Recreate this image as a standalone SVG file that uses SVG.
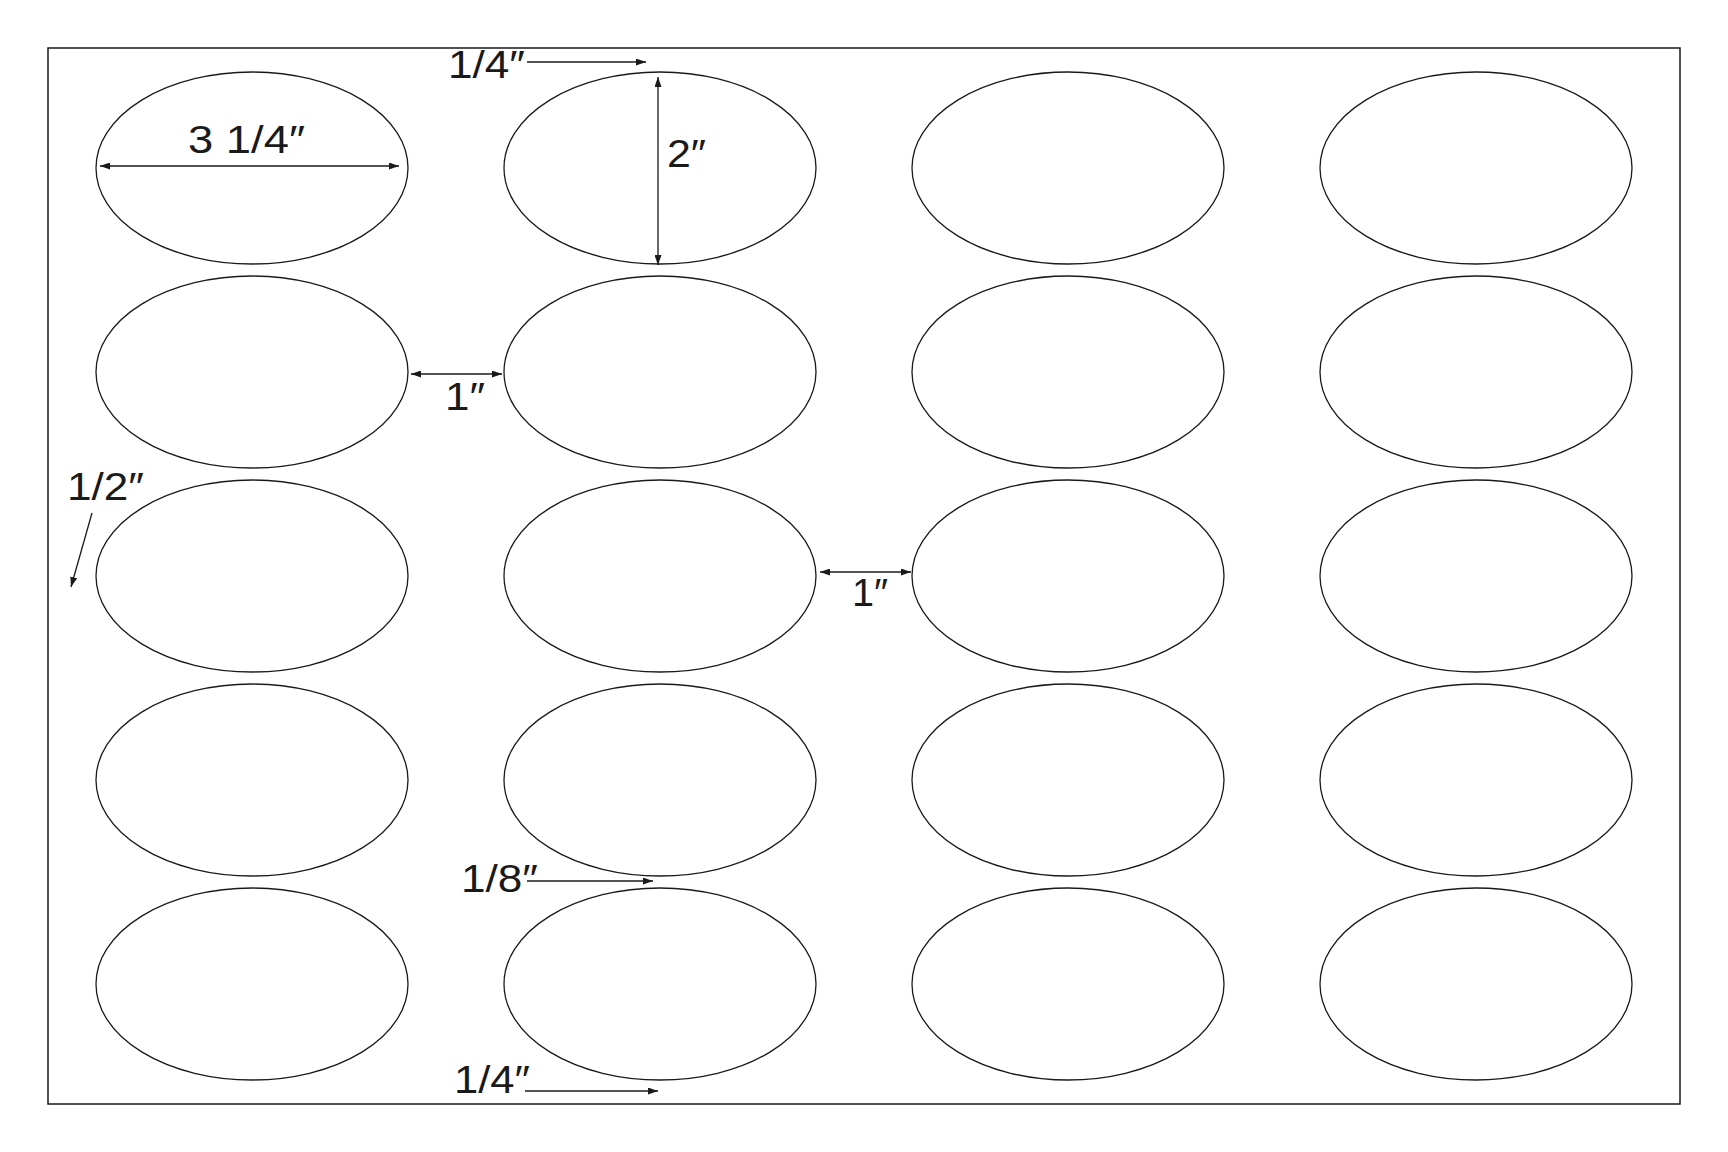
<svg xmlns="http://www.w3.org/2000/svg" width="1728" height="1152" viewBox="0 0 1728 1152">
<style>
.lbl{fill:none;stroke:#1a1a1a;stroke-width:1.3}
.sheet{fill:#fff;stroke:#1a1a1a;stroke-width:1.5}
.dim{stroke:#1a1a1a;stroke-width:1.3;fill:none}
text{font-family:"Liberation Sans","DejaVu Sans",sans-serif;font-size:39.5px;fill:#1a1a1a}
</style>
<defs>
<marker id="ah" markerUnits="userSpaceOnUse" markerWidth="10" markerHeight="7" refX="10" refY="3.5" orient="auto-start-reverse">
<path d="M0,0 L10,3.5 L0,7 z" fill="#1a1a1a"/>
</marker>
</defs>
<rect width="1728" height="1152" fill="#fff"/>
<rect id="sheet" class="sheet" x="48" y="48" width="1632" height="1056"/>
<g id="labels">
<g id="r1c1"><ellipse class="lbl" cx="252" cy="168" rx="156" ry="96"/></g>
<g id="r1c2"><ellipse class="lbl" cx="660" cy="168" rx="156" ry="96"/></g>
<g id="r1c3"><ellipse class="lbl" cx="1068" cy="168" rx="156" ry="96"/></g>
<g id="r1c4"><ellipse class="lbl" cx="1476" cy="168" rx="156" ry="96"/></g>
<g id="r2c1"><ellipse class="lbl" cx="252" cy="372" rx="156" ry="96"/></g>
<g id="r2c2"><ellipse class="lbl" cx="660" cy="372" rx="156" ry="96"/></g>
<g id="r2c3"><ellipse class="lbl" cx="1068" cy="372" rx="156" ry="96"/></g>
<g id="r2c4"><ellipse class="lbl" cx="1476" cy="372" rx="156" ry="96"/></g>
<g id="r3c1"><ellipse class="lbl" cx="252" cy="576" rx="156" ry="96"/></g>
<g id="r3c2"><ellipse class="lbl" cx="660" cy="576" rx="156" ry="96"/></g>
<g id="r3c3"><ellipse class="lbl" cx="1068" cy="576" rx="156" ry="96"/></g>
<g id="r3c4"><ellipse class="lbl" cx="1476" cy="576" rx="156" ry="96"/></g>
<g id="r4c1"><ellipse class="lbl" cx="252" cy="780" rx="156" ry="96"/></g>
<g id="r4c2"><ellipse class="lbl" cx="660" cy="780" rx="156" ry="96"/></g>
<g id="r4c3"><ellipse class="lbl" cx="1068" cy="780" rx="156" ry="96"/></g>
<g id="r4c4"><ellipse class="lbl" cx="1476" cy="780" rx="156" ry="96"/></g>
<g id="r5c1"><ellipse class="lbl" cx="252" cy="984" rx="156" ry="96"/></g>
<g id="r5c2"><ellipse class="lbl" cx="660" cy="984" rx="156" ry="96"/></g>
<g id="r5c3"><ellipse class="lbl" cx="1068" cy="984" rx="156" ry="96"/></g>
<g id="r5c4"><ellipse class="lbl" cx="1476" cy="984" rx="156" ry="96"/></g>
</g>
<g id="connectors">
<line class="dim" x1="527" y1="62" x2="646" y2="62" marker-end="url(#ah)"/>
<line class="dim" x1="100" y1="166" x2="399" y2="166" marker-start="url(#ah)" marker-end="url(#ah)"/>
<line class="dim" x1="658" y1="77" x2="658" y2="265" marker-start="url(#ah)" marker-end="url(#ah)"/>
<line class="dim" x1="411" y1="374" x2="502" y2="374" marker-start="url(#ah)" marker-end="url(#ah)"/>
<line class="dim" x1="92" y1="513" x2="71" y2="587" marker-end="url(#ah)"/>
<line class="dim" x1="820" y1="572" x2="911" y2="572" marker-start="url(#ah)" marker-end="url(#ah)"/>
<line class="dim" x1="527" y1="881" x2="653" y2="881" marker-end="url(#ah)"/>
<line class="dim" x1="525" y1="1091" x2="658" y2="1091" marker-end="url(#ah)"/>
</g>
<g id="dimension-text">
<text x="448" y="78" textLength="77" lengthAdjust="spacingAndGlyphs">1/4″</text>
<text x="188" y="153" textLength="117" lengthAdjust="spacingAndGlyphs">3 1/4″</text>
<text x="667" y="167" textLength="39" lengthAdjust="spacingAndGlyphs">2″</text>
<text x="445" y="410" textLength="40" lengthAdjust="spacingAndGlyphs">1″</text>
<text x="67" y="500" textLength="77" lengthAdjust="spacingAndGlyphs">1/2″</text>
<text x="852" y="606" textLength="36" lengthAdjust="spacingAndGlyphs">1″</text>
<text x="461" y="892" textLength="77" lengthAdjust="spacingAndGlyphs">1/8″</text>
<text x="454" y="1093" textLength="76" lengthAdjust="spacingAndGlyphs">1/4″</text>
</g>
</svg>
